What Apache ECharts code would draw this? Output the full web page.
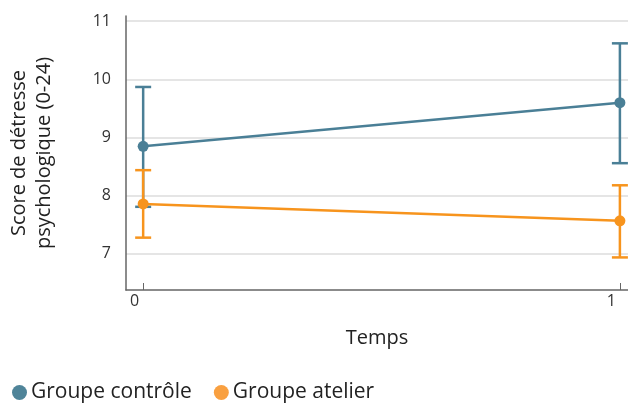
<!DOCTYPE html>
<html><head><meta charset="utf-8">
<script src="https://cdn.jsdelivr.net/npm/echarts@6/dist/echarts.min.js"></script>
<style>html,body{margin:0;padding:0;background:#fff}#c{width:628px;height:403px}</style>
</head><body><div id="c"></div>
<script>
const timePoints = [0, 1];
const seriesNames = ['Groupe contrôle', 'Groupe atelier'];
const controlMean = [8.85, 9.60];
const controlLow = [7.81, 8.56];
const controlHigh = [9.87, 10.62];
const atelierMean = [7.86, 7.57];
const atelierLow = [7.28, 6.94];
const atelierHigh = [8.44, 8.18];
const yTicks = [7, 8, 9, 10, 11];
const xTicks = [0, 1];

const colors = ['#4a7f96', '#f7941d'];
const legendColors = ['#4f8499', '#f9a040'];
const font = 'Open Sans';

function errSeries(name, low, high, color) {
  return {
    type: 'custom', name: name, z: 3, silent: true,
    data: timePoints.map((t, i) => [t, low[i], high[i]]),
    renderItem: function (params, api) {
      const x = api.value(0);
      const lo = api.coord([x, api.value(1)]);
      const hi = api.coord([x, api.value(2)]);
      const w = 8;
      const st = { stroke: color, lineWidth: 2.5 };
      return { type: 'group', children: [
        { type: 'line', shape: { x1: lo[0], y1: lo[1], x2: hi[0], y2: hi[1] }, style: st },
        { type: 'line', shape: { x1: lo[0] - w, y1: lo[1], x2: lo[0] + w, y2: lo[1] }, style: st },
        { type: 'line', shape: { x1: hi[0] - w, y1: hi[1], x2: hi[0] + w, y2: hi[1] }, style: st }
      ]};
    }
  };
}
function lineSeries(name, mean, color) {
  return {
    type: 'line', name: name, z: 4,
    data: timePoints.map((t, i) => [t, mean[i]]),
    symbol: 'circle', symbolSize: 11,
    lineStyle: { color: color, width: 2.5 },
    itemStyle: { color: color },
  };
}

const chart = echarts.init(document.getElementById('c'), null, { renderer: 'canvas' });
chart.setOption({
  animation: false,
  textStyle: { fontFamily: font },
  grid: { left: 126, right: 0, top: 16, bottom: 113, containLabel: false, outerBoundsMode: 'none' },
  legend: {
    left: 7, bottom: -5, itemGap: 22, itemWidth: 15, itemHeight: 15,
    data: [
      { name: seriesNames[0], icon: 'circle', itemStyle: { color: legendColors[0] } },
      { name: seriesNames[1], icon: 'circle', itemStyle: { color: legendColors[1] } }
    ],
    textStyle: { fontFamily: font, fontSize: 21, color: '#222', padding: [0, 0, 0, -1] }
  },
  xAxis: {
    type: 'value', min: -0.036, max: 1.017,
    name: 'Temps', nameLocation: 'middle', nameGap: 38,
    nameTextStyle: { fontSize: 20, color: '#222', fontFamily: font },
    axisLine: { show: true, onZero: false, lineStyle: { color: '#666', width: 1.5 } },
    axisTick: { show: true, inside: true, length: 7, customValues: xTicks, lineStyle: { color: '#666', width: 1 } },
    axisLabel: { customValues: xTicks, align: 'right', margin: 3, padding: [0, 4, 0, 0], fontSize: 16, color: '#333', fontFamily: font },
    splitLine: { show: false }
  },
  yAxis: {
    type: 'value', min: 6.38, max: 11.09,
    name: 'Score de détresse\npsychologique (0-24)', nameLocation: 'middle', nameGap: 69, nameRotate: 90,
    nameTextStyle: { fontSize: 20, color: '#222', fontFamily: font, lineHeight: 25 },
    axisLine: { show: true, onZero: false, lineStyle: { color: '#666', width: 1.5 } },
    axisTick: { show: false, customValues: yTicks },
    axisLabel: { customValues: yTicks, margin: 15, fontSize: 16, color: '#333', fontFamily: font },
    splitLine: { show: true, lineStyle: { color: '#dcdcdc', width: 1.5 } }
  },
  series: [
    errSeries(seriesNames[0], controlLow, controlHigh, colors[0]),
    lineSeries(seriesNames[0], controlMean, colors[0]),
    errSeries(seriesNames[1], atelierLow, atelierHigh, colors[1]),
    lineSeries(seriesNames[1], atelierMean, colors[1])
  ]
});
</script></body></html>
